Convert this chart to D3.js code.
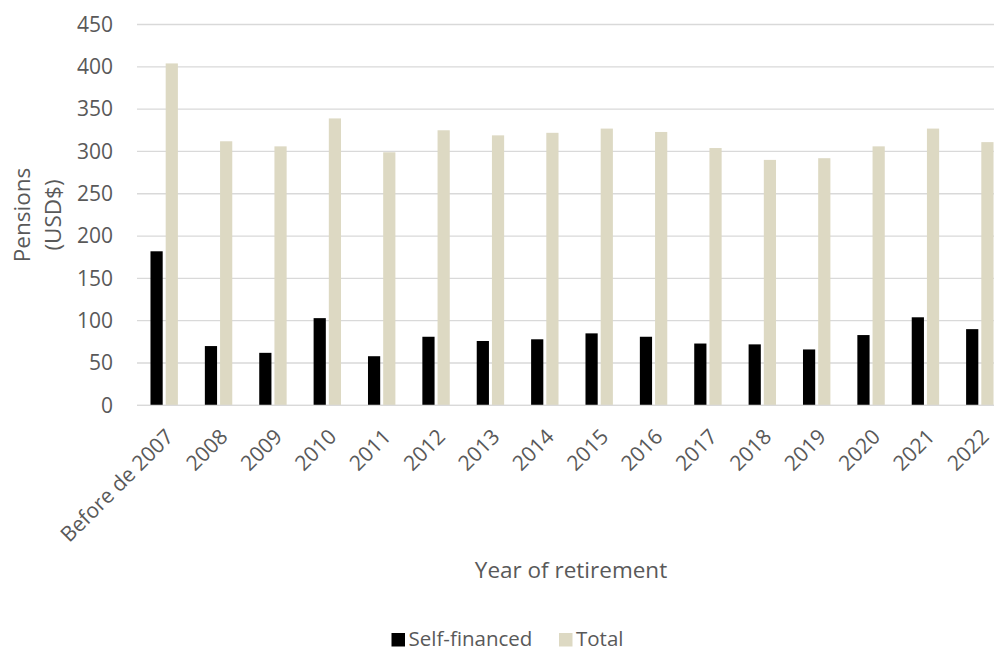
<!DOCTYPE html>
<html>
<head>
<meta charset="utf-8">
<script src="https://cdn.jsdelivr.net/npm/d3@7"></script>
<style>
  html, body { margin: 0; padding: 0; background: #fff; overflow: hidden; }
  svg { display: block; font-family: "Open Sans", "Noto Sans", sans-serif; }
</style>
</head>
<body>
<svg id="chart" width="994" height="652"></svg>
<script>
// Average pensions by year of retirement (USD$)
const categories = ["Before de 2007", "2008", "2009", "2010", "2011", "2012", "2013", "2014",
                    "2015", "2016", "2017", "2018", "2019", "2020", "2021", "2022"];
const selfFinanced = [182, 70, 62, 103, 58, 81, 76, 78, 85, 81, 73, 72, 66, 83, 104, 90];
const total        = [404, 312, 306, 339, 299, 325, 319, 322, 327, 323, 304, 290, 292, 306, 327, 311];
const seriesNames  = ["Self-financed", "Total"];
const yTicks       = [0, 50, 100, 150, 200, 250, 300, 350, 400, 450];

const colors = { "Self-financed": "#000000", "Total": "#ddd9c3" };
const textColor = "#595959";
const gridColor = "#d9d9d9";

const svg = d3.select("#chart");

const plot = { left: 137, right: 1007, top: 24.5, bottom: 405.3 };

const x0 = d3.scaleBand()
  .domain(categories)
  .range([plot.left, plot.right])
  .paddingInner(0)
  .paddingOuter(0);

const x1 = d3.scaleBand()
  .domain(seriesNames)
  .range([0, x0.bandwidth()])
  .paddingInner(0.197)
  .paddingOuter(0.887);

const y = d3.scaleLinear()
  .domain([0, 450])
  .range([plot.bottom, plot.top]);

// Horizontal gridlines
svg.append("g")
  .selectAll("line")
  .data(yTicks)
  .join("line")
  .attr("x1", plot.left)
  .attr("x2", plot.right)
  .attr("y1", d => y(d))
  .attr("y2", d => y(d))
  .attr("stroke", gridColor)
  .attr("stroke-width", 1.3);

// Y axis labels
const yAxis = d3.axisLeft(y).tickValues(yTicks).tickSize(0).tickPadding(0);
const gy = svg.append("g")
  .attr("transform", `translate(113,0)`)
  .call(yAxis);
gy.select(".domain").remove();
gy.selectAll("text")
  .attr("fill", textColor)
  .attr("font-size", 21)
  .attr("font-family", '"Open Sans", sans-serif');

// Bars
const rows = categories.map((c, i) => ({
  category: c,
  values: [
    { key: "Self-financed", value: selfFinanced[i] },
    { key: "Total", value: total[i] }
  ]
}));

svg.append("g")
  .selectAll("g")
  .data(rows)
  .join("g")
  .attr("transform", d => `translate(${x0(d.category)},0)`)
  .selectAll("rect")
  .data(d => d.values)
  .join("rect")
  .attr("x", d => x1(d.key))
  .attr("width", x1.bandwidth())
  .attr("y", d => y(d.value))
  .attr("height", d => y(0) - y(d.value))
  .attr("fill", d => colors[d.key]);

// X axis baseline
svg.append("line")
  .attr("x1", plot.left)
  .attr("x2", plot.right)
  .attr("y1", y(0))
  .attr("y2", y(0))
  .attr("stroke", gridColor)
  .attr("stroke-width", 1.3);

// X axis labels, rotated
const xAxis = d3.axisBottom(x0).tickSize(0).tickPadding(0);
const gx = svg.append("g")
  .call(xAxis);
gx.select(".domain").remove();
gx.selectAll(".tick")
  .attr("transform", d => `translate(${x0(d) + x0.bandwidth() / 2 + 10.5},438)`);
gx.selectAll("text")
  .attr("fill", textColor)
  .attr("font-size", 21)
  .attr("font-family", '"Open Sans", sans-serif')
  .attr("text-anchor", "end")
  .attr("dy", 0)
  .attr("y", 0)
  .attr("transform", "rotate(-45)");

// Axis titles
svg.append("text")
  .attr("x", 571)
  .attr("y", 578)
  .attr("text-anchor", "middle")
  .attr("fill", textColor)
  .attr("font-size", 22.5)
  .text("Year of retirement");

const yTitle = svg.append("g")
  .attr("transform", "translate(0,215) rotate(-90)");
yTitle.append("text")
  .attr("x", 0)
  .attr("y", 30)
  .attr("text-anchor", "middle")
  .attr("fill", textColor)
  .attr("font-size", 22.5)
  .text("Pensions");
yTitle.append("text")
  .attr("x", 0)
  .attr("y", 61)
  .attr("text-anchor", "middle")
  .attr("fill", textColor)
  .attr("font-size", 22.5)
  .text("(USD$)");

// Legend
const legendItems = [
  { key: "Self-financed", x: 391.5 },
  { key: "Total", x: 559 }
];
const legend = svg.append("g");
const li = legend.selectAll("g")
  .data(legendItems)
  .join("g")
  .attr("transform", d => `translate(${d.x},633)`);
li.append("rect")
  .attr("width", 13.5)
  .attr("height", 13.5)
  .attr("fill", d => colors[d.key]);
li.append("text")
  .attr("x", 17)
  .attr("y", 13.4)
  .attr("fill", textColor)
  .attr("font-size", 20.5)
  .text(d => d.key);
</script>
</body>
</html>
